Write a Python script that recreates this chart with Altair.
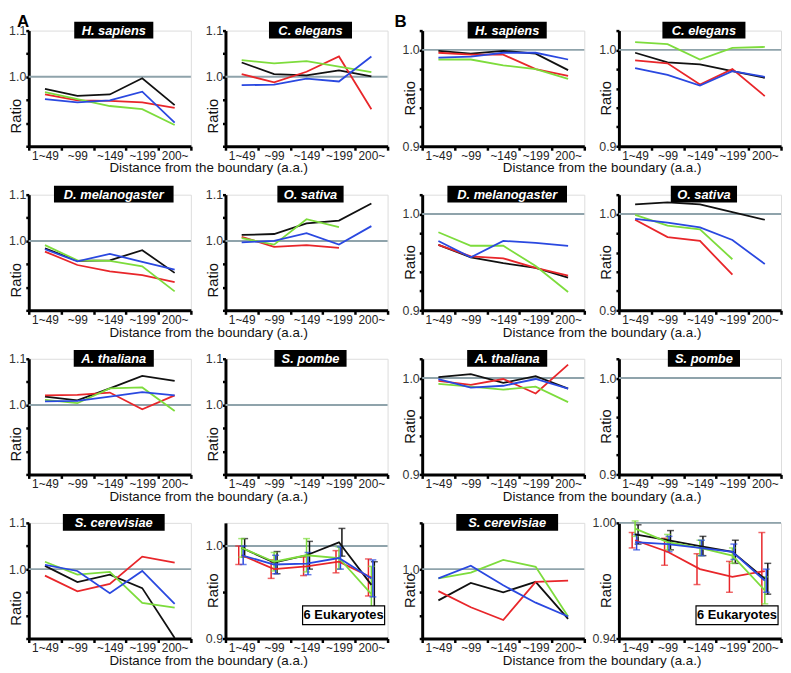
import altair as alt
import pandas as pd

FONT = "Liberation Sans"
categories = ["1~49", "~99", "~149", "~199", "200~"]
series = ["black", "red", "green", "blue"]
series_colors = ["#111111", "#e8262a", "#7ddc3c", "#2a48e0"]

# ---------------- Section A ----------------
A_hsapiens = {"black": [0.974, 0.959, 0.962, 0.997, 0.939],
              "red":   [0.962, 0.949, 0.948, 0.945, 0.933],
              "green": [0.967, 0.952, 0.937, 0.930, 0.896],
              "blue":  [0.952, 0.945, 0.949, 0.968, 0.901]}
A_celegans = {"black": [1.031, 1.006, 1.003, 1.014, 1.001],
              "red":   [1.006, 0.988, 1.011, 1.044, 0.930],
              "green": [1.036, 1.029, 1.034, 1.022, 1.010],
              "blue":  [0.982, 0.983, 0.996, 0.990, 1.044]}
A_dmel = {"black": [0.984, 0.957, 0.958, 0.980, 0.931],
          "red":   [0.977, 0.948, 0.934, 0.926, 0.911],
          "green": [0.991, 0.958, 0.957, 0.945, 0.891],
          "blue":  [0.982, 0.956, 0.972, 0.955, 0.938]}
A_osativa = {"black": [1.013, 1.015, 1.038, 1.044, 1.081],
             "red":   [1.009, 0.987, 0.991, 0.985, None],
             "green": [1.006, 0.992, 1.047, 1.030, None],
             "blue":  [0.997, 1.000, 1.017, 0.992, 1.032]}
A_athaliana = {"black": [1.018, 1.010, 1.036, 1.063, 1.052],
               "red":   [1.021, 1.022, 1.027, 0.991, 1.021],
               "green": [1.011, 1.004, 1.036, 1.038, 0.987],
               "blue":  [1.008, 1.009, 1.018, 1.028, 1.021]}
A_spombe = {}
A_scerevisiae = {"black": [1.007, 0.972, 0.988, 0.959, 0.851],
                 "red":   [0.986, 0.952, 0.968, 1.027, 1.014],
                 "green": [1.016, 0.988, 0.994, 0.927, 0.917],
                 "blue":  [1.009, 0.996, 0.948, 0.996, 0.925]}
A_euk = {"black": [0.998, 0.982, 0.990, 1.004, 0.958],
         "red":   [0.990, 0.975, 0.978, 0.983, 0.966],
         "green": [0.998, 0.983, 0.990, 0.987, 0.948],
         "blue":  [0.990, 0.980, 0.981, 0.987, 0.965]}
A_euk_err = {"black": [0.010, 0.012, 0.015, 0.015, 0.025],
             "red":   [0.010, 0.010, 0.010, 0.012, 0.020],
             "green": [0.010, 0.010, 0.018, 0.012, 0.030],
             "blue":  [0.010, 0.010, 0.012, 0.012, 0.020]}

# ---------------- Section B ----------------
B_hsapiens = {"black": [0.999, 0.996, 0.999, 0.996, 0.979],
              "red":   [0.997, 0.995, 0.995, 0.980, 0.973],
              "green": [0.990, 0.990, 0.984, 0.980, 0.970],
              "blue":  [0.992, 0.993, 0.997, 0.997, 0.990]}
B_celegans = {"black": [0.997, 0.987, 0.985, 0.978, 0.971],
              "red":   [0.989, 0.986, 0.964, 0.980, 0.952],
              "green": [1.008, 1.006, 0.990, 1.002, 1.003],
              "blue":  [0.981, 0.974, 0.963, 0.978, 0.972]}
B_dmel = {"black": [0.968, 0.955, 0.949, 0.944, 0.934],
          "red":   [0.968, 0.956, 0.954, 0.944, 0.936],
          "green": [0.981, 0.967, 0.967, 0.946, 0.919],
          "blue":  [0.972, 0.955, 0.972, 0.970, 0.967]}
B_osativa = {"black": [1.010, 1.012, 1.010, 1.002, 0.994],
             "red":   [0.994, 0.976, 0.972, 0.937, None],
             "green": [0.999, 0.988, 0.984, 0.953, None],
             "blue":  [0.995, 0.991, 0.986, 0.973, 0.948]}
B_athaliana = {"black": [1.001, 1.004, 0.995, 1.002, 0.989],
               "red":   [0.997, 0.993, 0.999, 0.984, 1.014],
               "green": [0.994, 0.991, 0.988, 0.991, 0.975],
               "blue":  [0.999, 0.990, 0.992, 0.999, 0.989]}
B_spombe = {}
B_scerevisiae = {"black": [0.973, 0.988, 0.980, 0.989, 0.957],
                 "red":   [0.981, 0.967, 0.956, 0.989, 0.990],
                 "green": [0.992, 0.997, 1.008, 1.002, 0.959],
                 "blue":  [0.992, 1.003, 0.986, 0.971, 0.959]}
B_euk = {"black": [0.994, 0.991, 0.988, 0.985, 0.971],
         "red":   [0.991, 0.985, 0.976, 0.972, 0.975],
         "green": [0.997, 0.990, 0.987, 0.983, 0.965],
         "blue":  [0.990, 0.989, 0.987, 0.985, 0.970]}
B_euk_err = {"black": [0.005, 0.005, 0.005, 0.006, 0.008],
             "red":   [0.004, 0.007, 0.008, 0.008, 0.020],
             "green": [0.004, 0.004, 0.004, 0.004, 0.007],
             "blue":  [0.004, 0.004, 0.004, 0.004, 0.006]}

W, H = 164, 117
SP_COL, SP_ROW = 35, 49
color_scale = alt.Scale(domain=series, range=series_colors)
err_offsets = {"black": 3, "red": -3, "green": 0, "blue": 1.5}


def to_df(values, errs=None):
    rows = []
    for s in series:
        vals = values.get(s)
        if not vals:
            continue
        for i, (c, v) in enumerate(zip(categories, vals)):
            if v is None:
                continue
            r = {"cat": c, "series": s, "ratio": v}
            if errs:
                e = errs[s][i]
                r["lo"] = v - e
                r["hi"] = v + e
            rows.append(r)
    return pd.DataFrame(rows)


def label_expr(labels, fmt):
    cond = " || ".join(f"abs(datum.value - {v}) < 1e-6" for v in labels)
    return f"({cond}) ? format(datum.value, '{fmt}') : ''"


def panel(values, name, ydom, yticks, ylabels, fmt, xtitle, ratio_y,
          box_w, errs=None, section=None, sec_x=0):
    x_axis = alt.Axis(
        title="Distance from the boundary (a.a.)" if xtitle else None,
        tickBand="extent", labelAngle=0, domainWidth=3, domainColor="black",
        tickColor="black", tickWidth=2.5, tickSize=4, labelPadding=0,
        labelFont=FONT, labelFontSize=12, labelColor="#222",
        titleFont=FONT, titleFontSize=13.5, titleFontWeight="normal",
        titleColor="#111", titleX=(2 * W + SP_COL) / 2, titleY=26,
        titleAlign="center", titleBaseline="alphabetic")
    y_axis = alt.Axis(
        title="Ratio", values=yticks, labelExpr=label_expr(ylabels, fmt),
        grid=False, domainWidth=3, domainColor="black", tickColor="black",
        tickWidth=2.5, tickSize=3, labelPadding=0, labelFont=FONT,
        labelFontSize=12.5, labelColor="#333", titleFont=FONT,
        titleFontSize=15, titleFontWeight="normal", titleColor="#111",
        titleAngle=270, titleX=-8, titleY=ratio_y, titleAlign="center",
        titleBaseline="alphabetic")
    xenc = alt.X("cat:O", sort=categories, bandPosition=0.5,
                 scale=alt.Scale(type="band", domain=categories,
                                 paddingInner=0, paddingOuter=0),
                 axis=x_axis)
    yscale = alt.Scale(domain=ydom, zero=False, nice=False)
    yenc = alt.Y("ratio:Q", scale=yscale, axis=y_axis)

    frame_df = pd.DataFrame({"cat": categories, "ratio": [1.0] * 5})
    layers = [
        alt.Chart(frame_df).mark_point(opacity=0).encode(x=xenc, y=yenc),
        alt.Chart(pd.DataFrame({"ratio": [1.0]})).mark_rule(
            color="#8fa3ab", strokeWidth=2).encode(y=yenc),
    ]
    df = to_df(values, errs)
    if len(df):
        if errs:
            for s in series:
                sub = df[df.series == s]
                off = err_offsets[s]
                layers.append(alt.Chart(sub).mark_rule(
                    strokeWidth=1.5, xOffset=off).encode(
                    x=xenc, y=alt.Y("lo:Q", scale=yscale), y2="hi:Q",
                    color=alt.Color("series:N", scale=color_scale, legend=None)))
                for fld in ["lo", "hi"]:
                    layers.append(alt.Chart(sub).mark_tick(
                        orient="horizontal", size=7, thickness=1.5,
                        xOffset=off).encode(
                        x=xenc, y=alt.Y(f"{fld}:Q", scale=yscale),
                        color=alt.Color("series:N", scale=color_scale,
                                        legend=None)))
        layers.append(alt.Chart(df).mark_line(strokeWidth=1.8).encode(
            x=xenc, y=yenc,
            color=alt.Color("series:N", scale=color_scale, legend=None),
            detail="series:N"))
    cx = W / 2 + 4
    one = pd.DataFrame({"k": [0]})
    if errs is None:
        layers.append(alt.Chart(one).mark_rect(color="black").encode(
            x=alt.value(cx - box_w / 2), x2=alt.value(cx + box_w / 2),
            y=alt.value(-9), y2=alt.value(8)))
        layers.append(alt.Chart(one).mark_text(
            text=name, font=FONT, fontSize=13, fontWeight="bold",
            fontStyle="italic", color="white", baseline="middle",
            align="center").encode(x=alt.value(cx), y=alt.value(0)))
    else:
        bx0, bx1 = W - 86, W - 3
        layers.append(alt.Chart(one).mark_rect(
            fill="white", stroke="black", strokeWidth=1.2).encode(
            x=alt.value(bx0), x2=alt.value(bx1),
            y=alt.value(H - 33), y2=alt.value(H - 14)))
        layers.append(alt.Chart(one).mark_text(
            text=name, font=FONT, fontSize=13, fontWeight="bold",
            color="black", baseline="middle", align="center").encode(
            x=alt.value((bx0 + bx1) / 2), y=alt.value(H - 23.5)))
    if section:
        layers.append(alt.Chart(one).mark_text(
            text=section, font=FONT, fontSize=17, fontWeight="bold",
            color="black", baseline="top", align="left").encode(
            x=alt.value(sec_x), y=alt.value(-17)))
    return alt.layer(*layers).properties(width=W, height=H)


A_dom, A_ticks, A_labels = [0.85, 1.1], [0.85, 0.9, 0.95, 1.0, 1.05, 1.1], [1.0, 1.1]
B_dom, B_ticks, B_labels = [0.9, 1.02], [0.9, 0.92, 0.94, 0.96, 0.98, 1.0, 1.02], [0.9, 1.0]

rows = [
    [(A_hsapiens, "H. sapiens", 80, "A", -12), (A_celegans, "C. elegans", 84, None, 0),
     (B_hsapiens, "H. sapiens", 80, "B", -28), (B_celegans, "C. elegans", 84, None, 0)],
    [(A_dmel, "D. melanogaster", 121, None, 0), (A_osativa, "O. sativa", 67, None, 0),
     (B_dmel, "D. melanogaster", 121, None, 0), (B_osativa, "O. sativa", 67, None, 0)],
    [(A_athaliana, "A. thaliana", 81, None, 0), (A_spombe, "S. pombe", 73, None, 0),
     (B_athaliana, "A. thaliana", 81, None, 0), (B_spombe, "S. pombe", 73, None, 0)],
]

panels = []
for row in rows:
    for j, (vals, name, bw, sec, secx) in enumerate(row):
        if j < 2:
            panels.append(panel(vals, name, A_dom, A_ticks, A_labels, ".1f",
                                j == 0, 86, bw, section=sec, sec_x=secx))
        else:
            panels.append(panel(vals, name, B_dom, B_ticks, B_labels, ".1f",
                                j == 2, 68, bw, section=sec, sec_x=secx))

panels.append(panel(A_scerevisiae, "S. cerevisiae", A_dom, A_ticks, A_labels,
                    ".1f", True, 86, 103))
panels.append(panel(A_euk, "6 Eukaryotes", [0.9, 1.025],
                    [0.9, 0.925, 0.95, 0.975, 1.0, 1.025], [0.9, 1.0], ".1f",
                    False, 68, 0, errs=A_euk_err))
panels.append(panel(B_scerevisiae, "S. cerevisiae", [0.94, 1.04],
                    [0.94, 0.96, 0.98, 1.0, 1.02, 1.04], [1.0], ".1f", True, 68, 103))
panels.append(panel(B_euk, "6 Eukaryotes", [0.94, 1.0],
                    [0.94, 0.95, 0.96, 0.97, 0.98, 0.99, 1.0], [0.94, 1.0], ".2f",
                    False, 68, 0, errs=B_euk_err))

chart = alt.concat(*panels, columns=4, spacing={"row": SP_ROW, "column": SP_COL},
                   bounds="flush").properties(padding=0).configure_view(
    stroke=None).configure(background="white")

chart.save("out.html", embed_options={"renderer": "svg", "actions": False})
